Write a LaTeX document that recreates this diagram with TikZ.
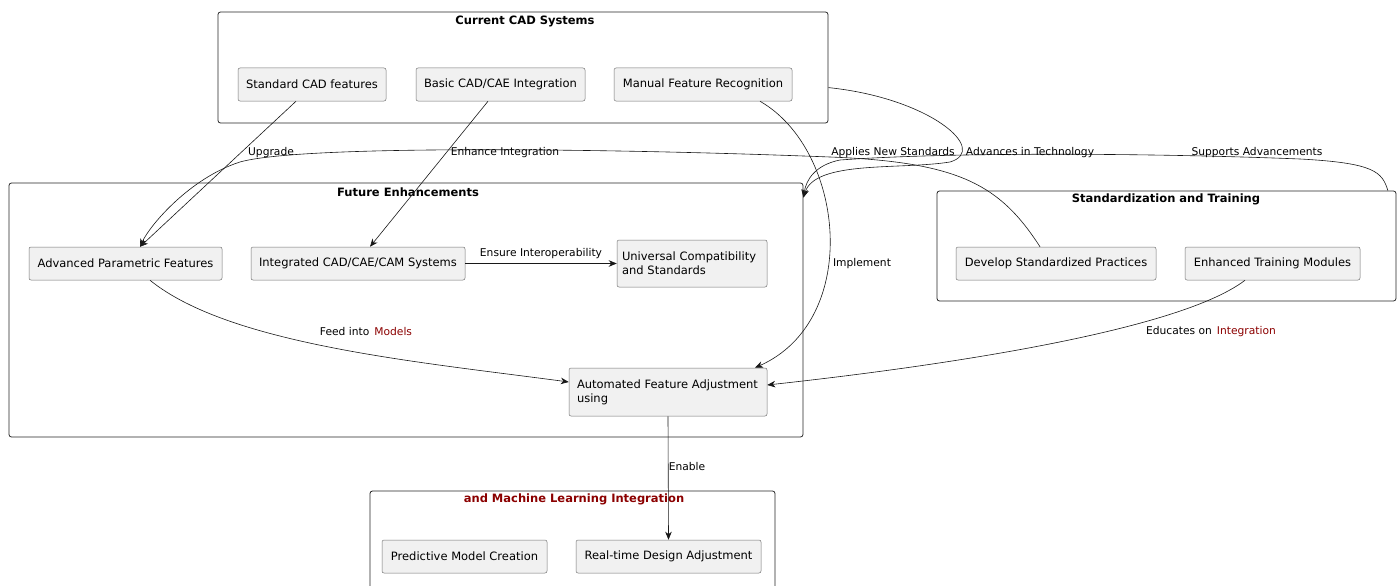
\documentclass[tikz,border=0pt]{standalone}
\usepackage{fontspec}
\setmainfont{DejaVu Sans}
\usetikzlibrary{arrows.meta}
\definecolor{lc}{HTML}{181818}
\definecolor{nodefill}{HTML}{F1F1F1}
\definecolor{dred}{HTML}{8B0000}
\begin{document}
\begin{tikzpicture}[x=1pt,y=-1pt,
  box/.style={draw=black!55, line width=0.5pt, fill=nodefill, rounded corners=2pt, inner sep=0pt,
    font=\fontsize{11.5}{14}\selectfont, align=center},
  cluster/.style={draw=black!85, line width=0.8pt, rounded corners=2.5pt, inner sep=0pt},
  ctitle/.style={font=\bfseries\fontsize{11.5}{13}\selectfont, inner sep=0pt},
  elabel/.style={font=\fontsize{10.7}{12}\selectfont, inner sep=0pt},
  conn/.style={draw=lc, line width=0.6pt, -{Stealth[length=8pt,width=6.5pt,inset=2.5pt]}}]
\useasboundingbox (0,0) rectangle (1400,586);

% clusters
\node[cluster, minimum width=610pt, minimum height=111pt] (cur) at (523,67.5) {};
\node[ctitle] (curT) at (525,21) {Current CAD Systems};
\node[cluster, minimum width=794pt, minimum height=254pt] (fut) at (406,310) {};
\node[ctitle] (futT) at (408,192) {Future Enhancements};
\node[cluster, minimum width=459pt, minimum height=110pt] (sat) at (1166.5,246) {};
\node[ctitle] (satT) at (1166,199) {Standardization and Training};
\node[cluster, minimum width=405pt, minimum height=115pt] (ml) at (572.5,548.5) {};
\node[ctitle, text=dred] (mlT) at (574,499) {and Machine Learning Integration};

% nodes
\node[box, minimum width=148pt, minimum height=33pt] (n1) at (312,84.5) {Standard CAD features};
\node[box, minimum width=169pt, minimum height=33pt] (n2) at (500.5,84.5) {Basic CAD/CAE Integration};
\node[box, minimum width=178pt, minimum height=33pt] (n3) at (703,84.5) {Manual Feature Recognition};
\node[box, minimum width=193pt, minimum height=33pt] (n4) at (125.5,263.5) {Advanced Parametric Features};
\node[box, minimum width=214pt, minimum height=33pt] (n5) at (358,263.5) {Integrated CAD/CAE/CAM Systems};
\node[box, minimum width=150pt, minimum height=47pt, align=left, text width=140pt] (n6) at (692,263.5) {\mbox{Universal Compatibility}\\and Standards};
\node[box, minimum width=198pt, minimum height=48pt, align=left, text width=182pt] (n7) at (668,392) {Automated Feature Adjustment\\using};
\node[box, minimum width=200pt, minimum height=33pt] (n8) at (1056,263.5) {Develop Standardized Practices};
\node[box, minimum width=175pt, minimum height=33pt] (n9) at (1272.5,263.5) {Enhanced Training Modules};
\node[box, minimum width=165pt, minimum height=33pt] (n10) at (464.5,556.5) {Predictive Model Creation};
\node[box, minimum width=185pt, minimum height=33pt] (n11) at (668.5,556.5) {Real-time Design Adjustment};

% connectors
\draw[conn] ([xshift=-16pt]n1.south) -- ([xshift=14.5pt]n4.north);
\draw[conn] ([xshift=-12.5pt]n2.south) -- ([xshift=12pt]n5.north);
\draw[conn] ([xshift=57pt]n3.south) .. controls (845,150) and (862,320) .. ([xshift=87pt]n7.north);
\draw[conn] ([yshift=-76pt]cur.north east) .. controls (930,98) and (990,150) .. (950,162)
  .. controls (900,170) and (815,160) .. ([yshift=-15pt]fut.north east);
\draw[conn] ([xshift=-16pt]n8.north) .. controls (1000,185) and (960,162) .. (830,157)
  .. controls (600,148) and (300,145) .. (240,162)
  .. controls (190,178) and (150,225) .. ([xshift=14.5pt]n4.north);
\draw[conn] ([xshift=-8.5pt]sat.north east) .. controls (1382,172) and (1375,163) .. (1300,159)
  .. controls (1150,153) and (950,152) .. (840,160)
  .. controls (815,165) and (806,180) .. ([yshift=-15pt]fut.north east);
\draw[conn] (n5.east) -- (n6.west);
\draw[conn] ([xshift=24.5pt]n4.south) .. controls (230,345) and (420,362) .. ([yshift=10pt]n7.west);
\draw[conn] ([xshift=-27.5pt]n9.south) .. controls (1180,330) and (950,365) .. ([yshift=7pt]n7.east);
\draw[conn] (n7.south) -- (n11.north);

% connector labels
\node[elabel] (l1) at (271,153) {Upgrade};
\node[elabel] (l2) at (505,153) {Enhance Integration};
\node[elabel] (l3) at (862,264) {Implement};
\node[elabel] (l4) at (893,153) {Applies New Standards};
\node[elabel] (l5) at (1030,153) {Advances in Technology};
\node[elabel] (l6) at (1257,153) {Supports Advancements};
\node[elabel] (l7) at (541,254) {Ensure Interoperability};
\node[elabel] (l8) at (366,332) {Feed into\hspace{5pt}\textcolor{dred}{Models}};
\node[elabel] (l9) at (1211,332) {Educates on\hspace{5pt}\textcolor{dred}{Integration}};
\node[elabel] (l10) at (687,467) {Enable};
\end{tikzpicture}
\end{document}
